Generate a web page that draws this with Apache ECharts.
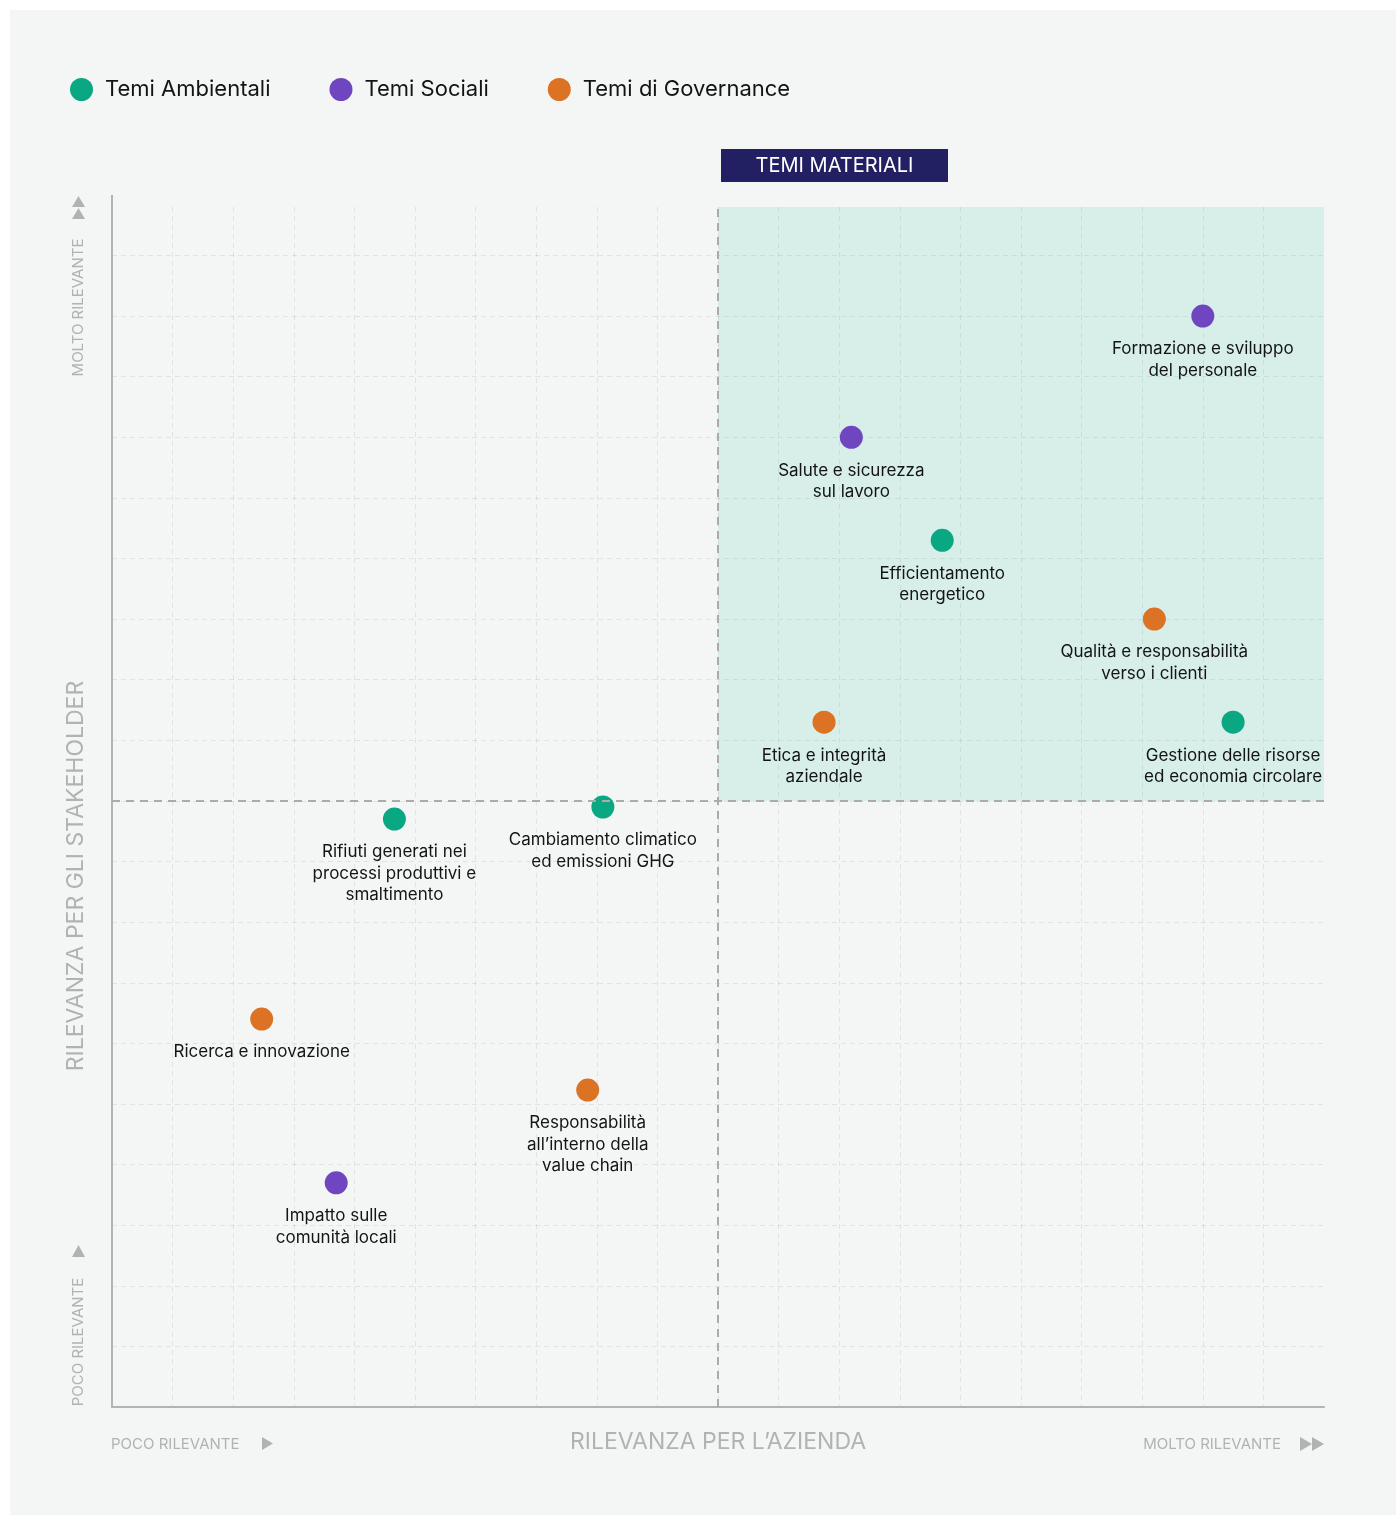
<!DOCTYPE html>
<html>
<head>
<meta charset="utf-8">
<script src="https://cdn.jsdelivr.net/npm/echarts@6/dist/echarts.min.js"></script>
<style>
  html, body { margin: 0; padding: 0; background: #fff; }
  #chart { position: absolute; left: 10px; top: 10px; width: 1386px; height: 1505px; }
</style>
</head>
<body>
<div id="chart"></div>
<script>
// categories of the material topics
const categories = ['Temi Ambientali', 'Temi Sociali', 'Temi di Governance']
const categoryColors = ['#0aa783', '#6f46bf', '#db7224']

// topics, their category index and the two relevance scores (0-20 scale)
const topics = [
  'Formazione e sviluppo\ndel personale',
  'Salute e sicurezza\nsul lavoro',
  'Efficientamento\nenergetico',
  'Qualità e responsabilità\nverso i clienti',
  'Etica e integrità\naziendale',
  'Gestione delle risorse\ned economia circolare',
  'Rifiuti generati nei\nprocessi produttivi e\nsmaltimento',
  'Cambiamento climatico\ned emissioni GHG',
  'Ricerca e innovazione',
  'Responsabilità\nall’interno della\nvalue chain',
  'Impatto sulle\ncomunità locali'
]
const topicCategory = [1, 1, 0, 2, 2, 0, 0, 0, 2, 2, 1]
const relAzienda = [18.0, 12.2, 13.7, 17.2, 11.75, 18.5, 4.66, 8.1, 2.47, 7.85, 3.7]
const relStakeholder = [18.0, 16.0, 14.3, 13.0, 11.3, 11.3, 9.7, 9.9, 6.4, 5.23, 3.7]

const threshold = 10
const xMax = 20
const yMax = 19.8

const FONT = 'Inter, "Noto Sans", sans-serif'
const GREY = '#b2b2b2'

const chart = echarts.init(document.getElementById('chart'))

const scatterSeries = categories.map((cat, ci) => ({
  name: cat,
  type: 'scatter',
  z: 3,
  symbolSize: 23,
  itemStyle: { color: categoryColors[ci], opacity: 1 },
  label: {
    show: true,
    position: 'bottom',
    distance: 11,
    formatter: '{b}',
    color: '#141414',
    fontFamily: FONT,
    fontSize: 17,
    lineHeight: 21.5,
    align: 'center'
  },
  emphasis: { disabled: true },
  data: topics
    .map((t, i) => ({ name: t, value: [relAzienda[i], relStakeholder[i]], c: topicCategory[i] }))
    .filter(d => d.c === ci)
    .map(d => ({ name: d.name, value: d.value }))
}))

chart.setOption({
  backgroundColor: '#f4f6f5',
  animation: false,
  legend: {
    data: categories,
    left: 55,
    top: 63,
    icon: 'circle',
    itemWidth: 23,
    itemHeight: 23,
    itemGap: 59,
    selectedMode: false,
    textStyle: { color: '#141414', fontFamily: FONT, fontSize: 22, padding: [0, 0, 0, 7] }
  },
  grid: { left: 102, top: 197, right: 72, bottom: 108 },
  xAxis: {
    type: 'value',
    min: 0,
    max: xMax,
    interval: 1,
    name: 'RILEVANZA PER L’AZIENDA',
    nameLocation: 'middle',
    nameGap: 35,
    nameTextStyle: { color: GREY, fontFamily: FONT, fontSize: 23, verticalAlign: 'middle' },
    axisLine: { show: true, lineStyle: { color: '#b3b3b3', width: 2 } },
    axisTick: { show: false },
    axisLabel: { show: false },
    splitLine: {
      show: true,
      showMinLine: false,
      showMaxLine: false,
      lineStyle: { color: 'rgba(0,0,0,0.075)', width: 1, type: [5, 4] }
    }
  },
  yAxis: {
    type: 'value',
    min: 0,
    max: yMax,
    interval: 1,
    axisLine: { show: true, lineStyle: { color: '#b3b3b3', width: 2 } },
    axisTick: { show: false },
    axisLabel: { show: false },
    splitLine: {
      show: true,
      showMinLine: false,
      showMaxLine: false,
      lineStyle: { color: 'rgba(0,0,0,0.075)', width: 1, type: [5, 4] }
    }
  },
  series: [
    {
      name: 'quadrante',
      type: 'scatter',
      z: 1,
      data: [],
      silent: true,
      markArea: {
        silent: true,
        itemStyle: { color: 'rgba(40,190,160,0.14)' },
        data: [[{ coord: [threshold, threshold] }, { coord: [xMax, yMax] }]]
      },
      markLine: {
        silent: true,
        symbol: ['none', 'none'],
        label: { show: false },
        lineStyle: { color: '#ababab', width: 2, type: [8, 6] },
        data: [{ xAxis: threshold }, { yAxis: threshold }]
      }
    },
    ...scatterSeries
  ],
  graphic: [
    // top stub of the vertical axis
    { type: 'line', shape: { x1: 102, y1: 185, x2: 102, y2: 198 }, style: { stroke: '#b3b3b3', lineWidth: 2 } },
    // "TEMI MATERIALI" tag
    { type: 'rect', shape: { x: 711, y: 139, width: 227, height: 33 }, style: { fill: '#221f62' } },
    {
      type: 'text', x: 824.5, y: 155.5,
      style: { text: 'TEMI MATERIALI', fill: '#fff', font: '20px ' + FONT, textAlign: 'center', textVerticalAlign: 'middle' }
    },
    // y axis title
    {
      type: 'text', x: 66, y: 866, rotation: Math.PI / 2,
      style: { text: 'RILEVANZA PER GLI STAKEHOLDER', fill: GREY, font: '23px ' + FONT, textAlign: 'center', textVerticalAlign: 'middle' }
    },
    // x axis scale hints
    {
      type: 'text', x: 101, y: 1434,
      style: { text: 'POCO RILEVANTE', fill: GREY, font: '15px ' + FONT, textAlign: 'left', textVerticalAlign: 'middle' }
    },
    { type: 'polygon', shape: { points: [[252, 1427], [252, 1440], [263, 1433.5]] }, style: { fill: GREY } },
    {
      type: 'text', x: 1271, y: 1434,
      style: { text: 'MOLTO RILEVANTE', fill: GREY, font: '15px ' + FONT, textAlign: 'right', textVerticalAlign: 'middle' }
    },
    { type: 'polygon', shape: { points: [[1290, 1427], [1290, 1441], [1302, 1434]] }, style: { fill: GREY } },
    { type: 'polygon', shape: { points: [[1302, 1427], [1302, 1441], [1314, 1434]] }, style: { fill: GREY } },
    // y axis scale hints
    {
      type: 'text', x: 68, y: 1332, rotation: Math.PI / 2,
      style: { text: 'POCO RILEVANTE', fill: GREY, font: '15px ' + FONT, textAlign: 'center', textVerticalAlign: 'middle' }
    },
    { type: 'polygon', shape: { points: [[62, 1247], [75, 1247], [68.5, 1235]] }, style: { fill: GREY } },
    {
      type: 'text', x: 68, y: 297.5, rotation: Math.PI / 2,
      style: { text: 'MOLTO RILEVANTE', fill: GREY, font: '15px ' + FONT, textAlign: 'center', textVerticalAlign: 'middle' }
    },
    { type: 'polygon', shape: { points: [[62, 197], [75, 197], [68.5, 186]] }, style: { fill: GREY } },
    { type: 'polygon', shape: { points: [[62, 209], [75, 209], [68.5, 198]] }, style: { fill: GREY } }
  ]
})
</script>
</body>
</html>
